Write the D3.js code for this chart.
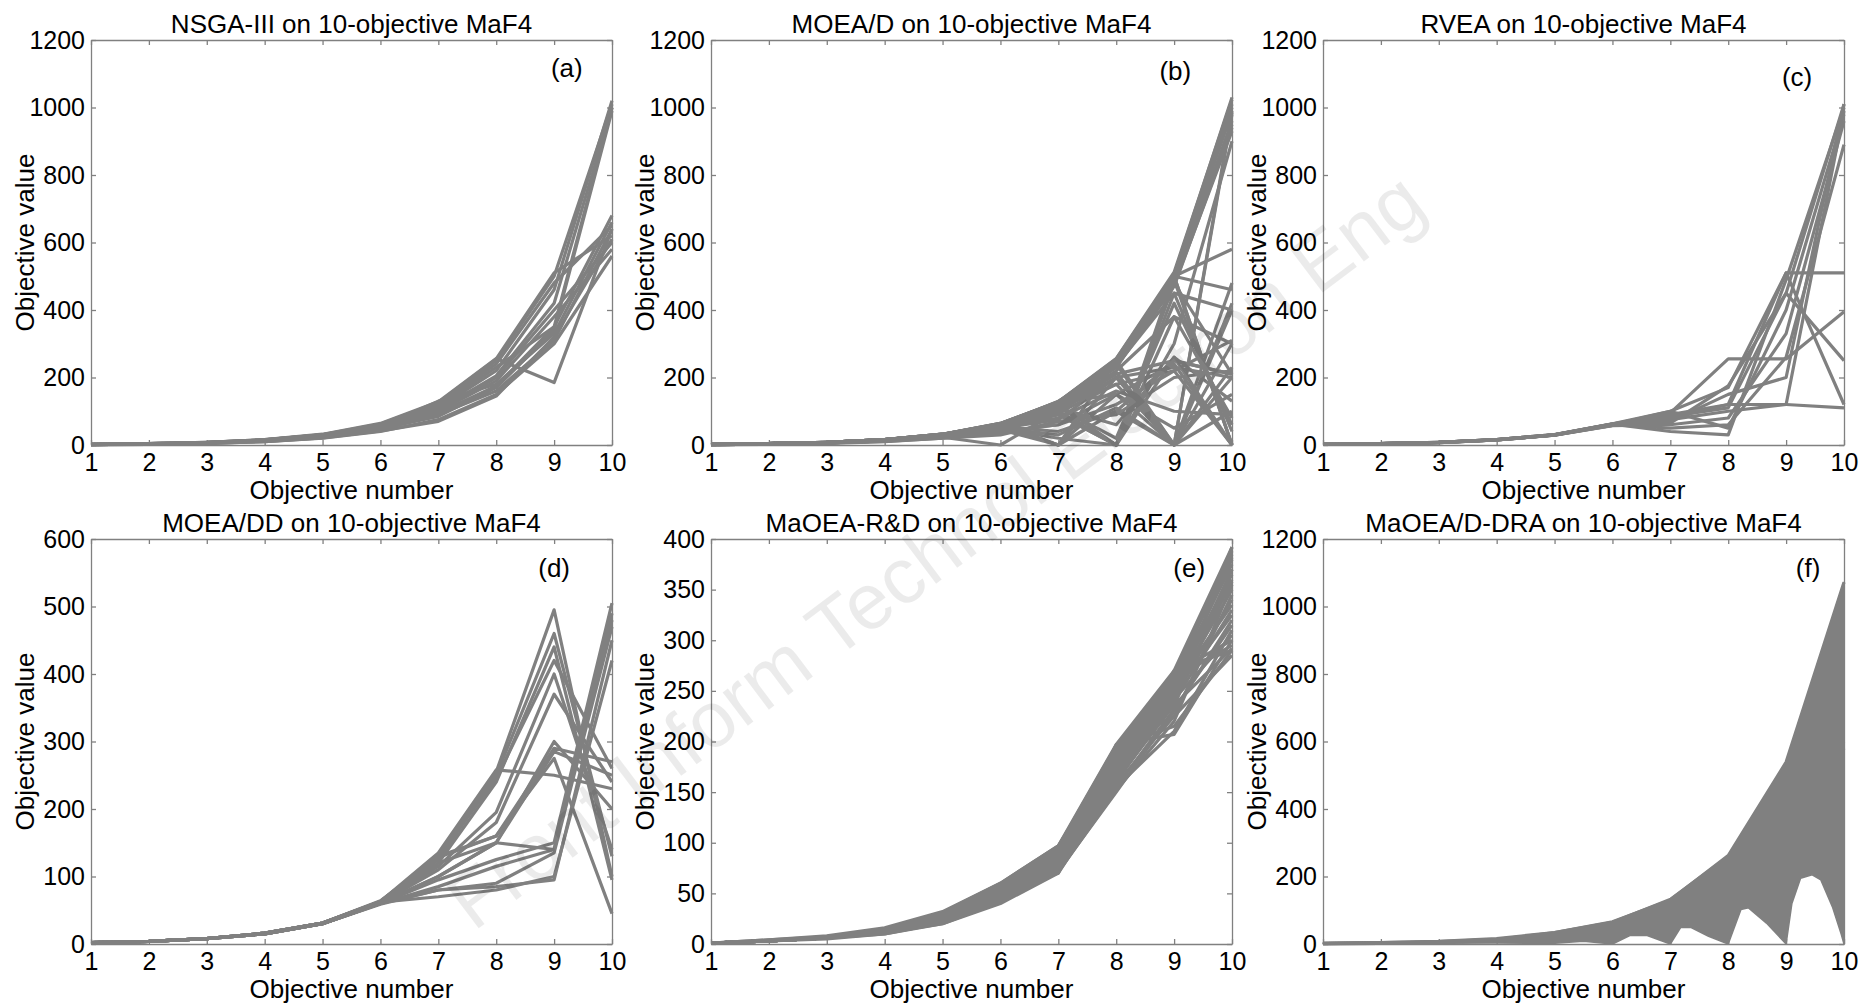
<!DOCTYPE html>
<html>
<head>
<style>
  body { margin: 0; background: #ffffff; }
  svg text { font-family: "Liberation Sans", Arial, sans-serif; fill: #000; }
  .axis path, .axis line { stroke: #808080; stroke-width: 1.3px; }
</style>
</head>
<body>
<svg width="1864" height="1006"></svg>
<script src="https://d3js.org/d3.v7.min.js"></script>
<script>
// x axis: objective index
const objectives = [1, 2, 3, 4, 5, 6, 7, 8, 9, 10];

const titles = [
  "NSGA-III on 10-objective MaF4",
  "MOEA/D on 10-objective MaF4",
  "RVEA on 10-objective MaF4",
  "MOEA/DD on 10-objective MaF4",
  "MaOEA-R&D on 10-objective MaF4",
  "MaOEA/D-DRA on 10-objective MaF4"
];
const letters = ["(a)", "(b)", "(c)", "(d)", "(e)", "(f)"];
const yMaxes = [1200, 1200, 1200, 600, 400, 1200];
const yTickSteps = [200, 200, 200, 100, 50, 200];
// where the panel letter sits, in data units
const letterX = [9.22, 9.02, 9.19, 9.0, 9.26, 9.38];
const letterY = [1117, 1108, 1090, 557, 371, 1114];

// (a) NSGA-III
const nsga3Lines = [
  [2, 4, 7, 15, 30, 60, 120, 250, 500, 1010],
  [1, 3, 6, 13, 26, 52, 105, 205, 420, 1000],
  [2, 3, 7, 14, 28, 55, 110, 220, 460, 1020],
  [2, 4, 8, 15, 31, 62, 125, 255, 510, 620],
  [1, 3, 6, 12, 25, 50, 100, 200, 400, 600],
  [2, 4, 8, 16, 30, 58, 115, 230, 350, 680],
  [2, 4, 7, 14, 27, 55, 130, 180, 330, 660],
  [1, 3, 5, 11, 22, 45, 90, 160, 310, 640],
  [1, 2, 5, 10, 20, 40, 75, 150, 300, 560],
  [2, 3, 7, 13, 27, 52, 100, 190, 380, 580],
  [2, 4, 8, 16, 32, 64, 128, 256, 185, 640],
  [1, 3, 6, 12, 24, 48, 95, 175, 350, 1000],
  [1, 2, 5, 10, 21, 42, 70, 145, 320, 610],
  [2, 4, 8, 15, 30, 60, 118, 240, 480, 650],
  [1, 3, 6, 12, 25, 48, 85, 170, 340, 990]
];

// (b) MOEA/D
const moeadLines = [
  [2, 4, 8, 16, 32, 64, 128, 256, 512, 1024],
  [2, 4, 8, 16, 31, 62, 124, 250, 500, 1000],
  [2, 4, 8, 15, 30, 60, 120, 240, 480, 960],
  [2, 4, 7, 15, 30, 58, 115, 230, 470, 940],
  [2, 4, 8, 16, 32, 63, 126, 252, 505, 1030],
  [2, 4, 8, 16, 32, 64, 127, 255, 505, 1010],
  [2, 4, 8, 16, 31, 63, 125, 248, 495, 985],
  [2, 4, 8, 15, 31, 61, 122, 245, 490, 950],
  [2, 4, 7, 15, 30, 59, 118, 236, 475, 930],
  [1, 3, 7, 14, 28, 55, 110, 215, 0, 990],
  [2, 4, 8, 16, 32, 64, 128, 250, 500, 580],
  [2, 4, 8, 16, 31, 60, 120, 240, 500, 460],
  [2, 4, 8, 15, 30, 60, 118, 235, 450, 400],
  [2, 4, 7, 14, 28, 56, 110, 220, 380, 300],
  [2, 4, 7, 14, 28, 55, 105, 210, 250, 210],
  [2, 4, 7, 14, 27, 52, 100, 200, 230, 200],
  [2, 3, 7, 13, 26, 50, 95, 180, 220, 310],
  [1, 3, 6, 13, 25, 48, 90, 0, 260, 130],
  [1, 3, 6, 12, 24, 45, 0, 200, 0, 420],
  [1, 3, 6, 12, 23, 0, 100, 0, 500, 0],
  [2, 4, 7, 14, 28, 55, 40, 100, 0, 200],
  [1, 3, 6, 12, 24, 40, 60, 120, 220, 0],
  [2, 4, 8, 15, 30, 50, 80, 160, 100, 90],
  [2, 3, 6, 12, 22, 35, 110, 20, 420, 60],
  [1, 3, 6, 11, 20, 30, 70, 90, 200, 220],
  [2, 4, 8, 16, 30, 60, 130, 230, 490, 0],
  [1, 2, 5, 10, 20, 38, 60, 150, 50, 150],
  [2, 4, 7, 14, 29, 58, 112, 240, 0, 480],
  [2, 4, 8, 16, 31, 62, 100, 0, 450, 40],
  [1, 3, 6, 12, 25, 50, 30, 110, 0, 100],
  [2, 4, 7, 14, 28, 54, 0, 150, 240, 0],
  [1, 3, 6, 12, 24, 48, 20, 0, 380, 80],
  [2, 4, 7, 14, 28, 50, 75, 200, 0, 300],
  [2, 4, 8, 16, 32, 60, 120, 0, 480, 210],
  [2, 4, 8, 15, 30, 55, 90, 0, 300, 900],
  [2, 4, 8, 16, 30, 60, 125, 250, 0, 400],
  [2, 4, 8, 15, 30, 58, 110, 180, 0, 980],
  [2, 4, 8, 16, 32, 63, 0, 250, 500, 0],
  [2, 4, 8, 16, 31, 60, 125, 150, 0, 230],
  [2, 4, 8, 15, 30, 60, 0, 100, 250, 210],
  [2, 4, 7, 14, 27, 50, 110, 60, 260, 0]
];

// (c) RVEA
const rveaLines = [
  [2, 4, 8, 16, 30, 62, 95, 255, 255, 395],
  [2, 4, 8, 16, 31, 62, 90, 120, 510, 510],
  [2, 4, 8, 15, 30, 60, 85, 110, 450, 250],
  [2, 4, 8, 16, 30, 63, 100, 170, 510, 120],
  [2, 4, 7, 15, 29, 60, 75, 100, 120, 990],
  [2, 4, 8, 15, 30, 58, 70, 150, 200, 1010],
  [2, 4, 7, 15, 29, 57, 60, 80, 330, 960],
  [2, 4, 8, 16, 30, 60, 50, 60, 260, 890],
  [2, 4, 7, 15, 30, 62, 40, 30, 490, 1000],
  [2, 4, 8, 16, 31, 63, 80, 120, 120, 110],
  [2, 4, 8, 15, 30, 60, 100, 50, 400, 980],
  [2, 4, 7, 15, 29, 58, 65, 175, 450, 1010]
];

// (d) MOEA/DD
const moeaddLines = [
  [2, 4, 8, 16, 31, 64, 128, 255, 495, 100],
  [2, 4, 8, 16, 31, 63, 125, 250, 460, 130],
  [2, 4, 8, 16, 31, 62, 120, 240, 440, 95],
  [2, 4, 8, 15, 30, 62, 115, 195, 400, 140],
  [2, 4, 8, 15, 30, 61, 110, 180, 370, 240],
  [2, 4, 8, 16, 31, 63, 130, 160, 290, 270],
  [2, 4, 8, 16, 30, 60, 100, 150, 285, 250],
  [2, 4, 8, 15, 30, 60, 95, 125, 150, 505],
  [2, 4, 8, 15, 30, 60, 85, 115, 140, 490],
  [2, 4, 8, 15, 30, 60, 80, 90, 135, 470],
  [2, 4, 8, 15, 30, 59, 80, 85, 95, 450],
  [2, 4, 8, 16, 31, 62, 70, 80, 100, 420],
  [2, 4, 8, 16, 31, 63, 135, 258, 250, 230],
  [2, 4, 8, 16, 31, 62, 128, 160, 275, 45],
  [2, 4, 8, 15, 30, 60, 120, 150, 300, 200],
  [2, 4, 8, 15, 30, 61, 100, 150, 140, 480],
  [2, 4, 8, 16, 31, 63, 130, 245, 420, 260]
];

// (e) MaOEA-R&D
const maoeaRDLines = [
  [1, 4, 8, 16, 32, 60, 97, 197, 270, 392],
  [1, 4, 7, 15, 30, 58, 95, 190, 265, 385],
  [1, 3, 7, 14, 28, 55, 90, 185, 260, 375],
  [1, 3, 6, 13, 26, 52, 85, 180, 255, 360],
  [1, 3, 6, 12, 24, 50, 80, 175, 250, 350],
  [1, 3, 6, 12, 22, 45, 75, 170, 245, 340],
  [1, 3, 6, 11, 20, 40, 70, 160, 240, 330],
  [1, 3, 6, 10, 20, 42, 72, 150, 230, 320],
  [1, 3, 5, 10, 21, 45, 78, 155, 210, 310],
  [1, 3, 6, 12, 25, 55, 70, 197, 207, 300],
  [1, 3, 6, 13, 27, 57, 92, 195, 215, 290],
  [1, 3, 7, 14, 29, 59, 96, 196, 225, 285],
  [1, 3, 6, 12, 24, 48, 88, 165, 270, 290],
  [1, 3, 6, 11, 23, 47, 82, 160, 268, 300],
  [1, 3, 6, 12, 26, 53, 94, 178, 262, 295],
  [1, 3, 7, 15, 31, 60, 97, 188, 240, 392],
  [1, 3, 6, 13, 28, 50, 86, 182, 235, 370],
  [1, 3, 6, 12, 23, 44, 76, 158, 225, 345],
  [1, 3, 6, 11, 21, 41, 71, 152, 220, 355],
  [1, 3, 7, 14, 30, 56, 93, 192, 252, 380],
  [1, 3, 6, 13, 27, 51, 83, 168, 258, 365],
  [1, 3, 6, 12, 25, 46, 79, 163, 248, 325],
  [1, 3, 6, 12, 24, 49, 84, 172, 248, 370],
  [1, 3, 6, 12, 25, 52, 88, 186, 262, 388],
  [1, 3, 6, 13, 27, 54, 91, 176, 254, 335],
  [1, 3, 6, 11, 22, 43, 73, 155, 232, 315],
  [1, 3, 6, 12, 23, 46, 77, 166, 242, 305],
  [1, 3, 7, 14, 29, 57, 95, 194, 266, 382],
  [1, 3, 6, 12, 24, 48, 81, 162, 236, 292],
  [1, 3, 6, 13, 26, 53, 89, 184, 246, 358]
];

// (f) MaOEA/D-DRA: the lines are so dense they form a solid band,
// read off as its upper edge and lower (arched) edge
const draUpper = [3, 4, 8, 16, 36, 67, 135, 262, 539, 1072];
const draLowerX = [1, 2, 3, 4, 5, 5.5, 6, 6.3, 6.6, 7, 7.18, 7.36, 7.66, 8, 8.22, 8.35, 8.66, 9, 9.1, 9.25, 9.45, 9.6, 9.8, 9.95, 10];
const draLowerY = [1, 1, 2, 3, 2, 8, 0, 25, 25, 0, 49, 49, 23, 0, 102, 107, 62, 0, 120, 195, 205, 190, 110, 30, 0];
const draLines = [
  [2, 4, 8, 16, 34, 66, 130, 262, 539, 1072],
  [2, 3, 6, 12, 24, 48, 96, 200, 400, 600],
  [1, 3, 6, 12, 26, 50, 110, 220, 300, 580],
  [1, 2, 5, 11, 22, 40, 90, 180, 350, 500],
  [2, 4, 7, 14, 28, 60, 120, 240, 480, 420],
  [1, 2, 5, 10, 20, 42, 80, 150, 260, 350]
];

const allLines = [nsga3Lines, moeadLines, rveaLines, moeaddLines, maoeaRDLines, draLines];

const svg = d3.select("svg");
const W = 521, H = 405;
const colX = [91, 711, 1323], rowY = [40, 539];
const lineColor = "#808080";

titles.forEach(function(title, i) {
  const left = colX[i % 3], top = rowY[Math.floor(i / 3)];
  const g = svg.append("g").attr("transform", "translate(" + left + "," + top + ")");

  const x = d3.scaleLinear().domain([1, 10]).range([0, W]);
  const y = d3.scaleLinear().domain([0, yMaxes[i]]).range([H, 0]);
  const yTicks = d3.range(0, yMaxes[i] + 1, yTickSteps[i]);

  const line = d3.line()
    .x(function(d, k) { return x(objectives[k]); })
    .y(function(d) { return y(d); });

  if (i === 5) {
    // solid band for the dense DRA population
    const band = draUpper.map(function(v, k) { return [objectives[k], v]; })
      .concat(draLowerX.map(function(v, k) { return [v, draLowerY[k]]; }).reverse());
    g.append("path")
      .attr("d", d3.line().x(function(d) { return x(d[0]); }).y(function(d) { return y(d[1]); })
        .curve(d3.curveLinearClosed)(band))
      .attr("fill", lineColor)
      .attr("stroke", lineColor)
      .attr("stroke-width", 1.5)
      .attr("stroke-linejoin", "round");
  }

  g.append("g")
    .selectAll("path")
    .data(allLines[i])
    .enter()
    .append("path")
      .attr("d", line)
      .attr("fill", "none")
      .attr("stroke", lineColor)
      .attr("stroke-width", 3.2)
      .attr("stroke-linejoin", "round");

  // box with inward ticks on all four sides
  g.append("g").attr("class", "axis")
    .attr("transform", "translate(0," + H + ")")
    .call(d3.axisBottom(x).tickValues(objectives).tickSize(-5).tickSizeOuter(0).tickPadding(8).tickFormat(d3.format("d")))
    .call(function(a) { a.selectAll("text").style("font-size", "25px"); });
  g.append("g").attr("class", "axis")
    .call(d3.axisTop(x).tickValues(objectives).tickSize(-5).tickSizeOuter(0).tickFormat(""));
  g.append("g").attr("class", "axis")
    .call(d3.axisLeft(y).tickValues(yTicks).tickSize(-5).tickSizeOuter(0).tickPadding(6).tickFormat(d3.format("d")))
    .call(function(a) { a.selectAll("text").style("font-size", "25px"); });
  g.append("g").attr("class", "axis")
    .attr("transform", "translate(" + W + ",0)")
    .call(d3.axisRight(y).tickValues(yTicks).tickSize(-5).tickSizeOuter(0).tickFormat(""));

  g.selectAll(".axis text").attr("fill", "#000");

  g.append("text")
    .attr("x", W / 2)
    .attr("y", -7)
    .attr("text-anchor", "middle")
    .style("font-size", "26px")
    .text(title);

  g.append("text")
    .attr("x", W / 2)
    .attr("y", H + 54)
    .attr("text-anchor", "middle")
    .style("font-size", "26px")
    .text("Objective number");

  g.append("text")
    .attr("transform", "translate(-57," + (H / 2) + ") rotate(-90)")
    .attr("text-anchor", "middle")
    .style("font-size", "26px")
    .text("Objective value");

  g.append("text")
    .attr("x", x(letterX[i]))
    .attr("y", y(letterY[i]))
    .attr("dy", "0.35em")
    .attr("text-anchor", "middle")
    .style("font-size", "26px")
    .text(letters[i]);
});

// faint journal watermark across the figure
svg.append("text")
  .attr("transform", "translate(935,550) rotate(-37)")
  .attr("text-anchor", "middle")
  .attr("dy", "0.35em")
  .style("font-size", "79px")
  .style("fill", "#000")
  .style("fill-opacity", 0.08)
  .text("Front Inform Technol Electron Eng");
</script>
</body>
</html>
